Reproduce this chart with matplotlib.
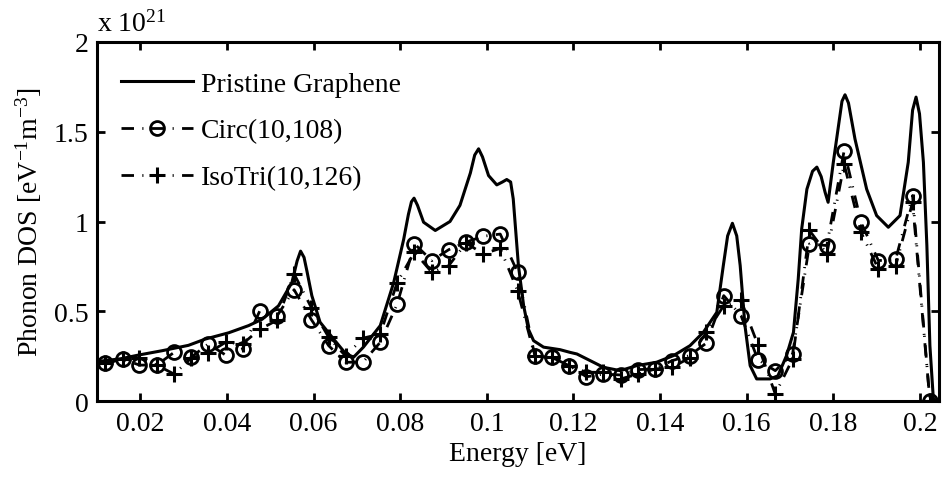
import numpy as np
import matplotlib
matplotlib.use("Agg")
from matplotlib import pyplot as plt


# pristine graphene DOS (units of 1e21 eV^-1 m^-3)
pristine_e = [0.0101, 0.0154, 0.0196, 0.0250, 0.0311, 0.0350, 0.0404, 0.0450,
              0.0481, 0.0519, 0.0550, 0.0562, 0.0570, 0.0578, 0.0585, 0.0596,
              0.0615, 0.0646, 0.0672, 0.0692, 0.0715, 0.0754, 0.0785, 0.0808,
              0.0819, 0.0826, 0.0832, 0.0840, 0.0854, 0.0881, 0.0915, 0.0938,
              0.0962, 0.0972, 0.0981, 0.0990, 0.1004, 0.1023, 0.1036, 0.1046,
              0.1055, 0.1061, 0.1073, 0.1085, 0.1096, 0.1108, 0.1131, 0.1169,
              0.1192, 0.1208, 0.1246, 0.1269, 0.1308, 0.1346, 0.1392, 0.1431,
              0.1469, 0.1500, 0.1531, 0.1546, 0.1556, 0.1567, 0.1577, 0.1585,
              0.1596, 0.1608, 0.1623, 0.1654, 0.1672, 0.1692, 0.1708, 0.1719,
              0.1727, 0.1739, 0.1752, 0.1762, 0.1772, 0.1781, 0.1788, 0.1800,
              0.1810, 0.1820, 0.1827, 0.1835, 0.1850, 0.1877, 0.1900, 0.1927,
              0.1954, 0.1973, 0.1983, 0.1991, 0.1999, 0.2008, 0.2016, 0.2023,
              0.2031, 0.2044]
pristine_dos = [0.22, 0.235, 0.256, 0.28, 0.31, 0.345, 0.38, 0.42,
                0.455, 0.53, 0.66, 0.78, 0.835, 0.80, 0.72, 0.587,
                0.439, 0.346, 0.27, 0.243, 0.30, 0.42, 0.66, 0.90,
                1.04, 1.11, 1.13, 1.09, 0.996, 0.95, 1.0, 1.09,
                1.27, 1.37, 1.405, 1.36, 1.256, 1.204, 1.22, 1.234,
                1.22, 1.126, 0.754, 0.531, 0.40, 0.336, 0.30, 0.286,
                0.271, 0.262, 0.216, 0.188, 0.169, 0.197, 0.216, 0.253,
                0.308, 0.383, 0.494, 0.754, 0.92, 0.99, 0.92, 0.754,
                0.42, 0.197, 0.123, 0.123, 0.14, 0.253, 0.383, 0.68,
                0.959, 1.18, 1.28, 1.303, 1.25, 1.163, 1.107, 1.33,
                1.50, 1.67, 1.706, 1.66, 1.46, 1.18, 1.033, 0.968,
                1.033, 1.33, 1.62, 1.693, 1.60, 1.33, 0.866, 0.308,
                0.01, 0.0]

# energies of the marked points (every few grid points of the calculation)
marker_e = [0.0119, 0.0159, 0.0198, 0.0238, 0.0278, 0.0317, 0.0357, 0.0397,
            0.0436, 0.0476, 0.0516, 0.0555, 0.0595, 0.0635, 0.0674, 0.0714,
            0.0754, 0.0793, 0.0833, 0.0873, 0.0912, 0.0952, 0.0992, 0.1031,
            0.1071, 0.1111, 0.1150, 0.1190, 0.1230, 0.1269, 0.1309, 0.1349,
            0.1388, 0.1428, 0.1468, 0.1507, 0.1547, 0.1587, 0.1626, 0.1666,
            0.1706, 0.1745, 0.1785, 0.1825, 0.1864, 0.1904, 0.1944, 0.1983,
            0.2023]

circ_dos = [0.21, 0.234, 0.20, 0.20, 0.271, 0.243, 0.318, 0.256,
            0.29, 0.503, 0.475, 0.62, 0.453, 0.308, 0.216, 0.216,
            0.327, 0.54, 0.875, 0.782, 0.843, 0.885, 0.918, 0.93,
            0.717, 0.249, 0.243, 0.197, 0.135, 0.15, 0.145, 0.175,
            0.178, 0.225, 0.253, 0.323, 0.587, 0.475, 0.23, 0.169,
            0.262, 0.875, 0.866, 1.395, 0.996, 0.782, 0.79, 1.144,
            0.0]

isotri_dos = [0.21, 0.234, 0.24, 0.20, 0.15, 0.238, 0.268, 0.327,
              0.318, 0.40, 0.45, 0.708, 0.52, 0.355, 0.25, 0.35,
              0.373, 0.66, 0.83, 0.717, 0.754, 0.88, 0.82, 0.85,
              0.615, 0.249, 0.243, 0.197, 0.16, 0.16, 0.123, 0.15,
              0.178, 0.188, 0.24, 0.383, 0.531, 0.56, 0.312, 0.039,
              0.234, 0.95, 0.82, 1.32, 0.94, 0.736, 0.754, 1.107,
              0.0]

x_ticks = [0.02, 0.04, 0.06, 0.08, 0.1, 0.12, 0.14, 0.16, 0.18, 0.2]
x_labels = ["0.02", "0.04", "0.06", "0.08", "0.1", "0.12", "0.14", "0.16", "0.18", "0.2"]
y_ticks = [0, 0.5, 1, 1.5, 2]
y_labels = ["0", "0.5", "1", "1.5", "2"]


plt.rcParams['font.family'] = ['Liberation Serif', 'DejaVu Serif']
plt.rcParams['mathtext.fontset'] = 'custom'
plt.rcParams['mathtext.rm'] = 'Liberation Serif'
plt.rcParams['mathtext.it'] = 'Liberation Serif'

FS = 20

fig = plt.figure(figsize=(9.42, 4.81), dpi=100)
ax = fig.add_axes([97 / 942, 1 - 402 / 481, 842 / 942, 359 / 481])

dashdot = (0, (4.5, 3.0, 0.4, 3.0))

ax.plot(pristine_e, pristine_dos, '-', color='black', lw=2.2, label='Pristine Graphene')
ax.plot(marker_e, circ_dos, linestyle=dashdot, color='black', lw=2.0,
        marker='o', markersize=10, markerfacecolor='none', markeredgewidth=2.0,
        label='Circ(10,108)')
ax.plot(marker_e, isotri_dos, linestyle=dashdot, color='black', lw=2.0,
        marker='+', markersize=11, markeredgewidth=2.2,
        label='IsoTri(10,126)')

ax.set_xlim(0.01, 0.2044)
ax.set_ylim(0, 2)
ax.set_xticks(x_ticks)
ax.set_xticklabels(x_labels)
ax.set_yticks(y_ticks)
ax.set_yticklabels(y_labels)

ax.tick_params(direction='in', length=6, width=2, labelsize=FS,
               top=True, right=True)
ax.tick_params(axis='x', pad=7)
ax.tick_params(axis='y', pad=6)
for sp in ax.spines.values():
    sp.set_linewidth(2.2)

ax.set_xlabel('Energy [eV]', fontsize=FS)
ax.xaxis.set_label_coords(0.5, -(442 - 402) / 359)
ax.set_ylabel(r'Phonon DOS [eV$^{-1}$m$^{-3}$]', fontsize=FS)
ax.yaxis.set_label_coords(-(97 - 44) / 842, 0.5)

ax.text(0.0, 1.0315, r'x 10$^{21}$', transform=ax.transAxes, fontsize=FS,
        ha='left', va='baseline')

leg = ax.legend(loc='upper left', frameon=False, fontsize=FS, handlelength=2.6,
                handletextpad=0.3, labelspacing=0.77, borderaxespad=0.3,
                numpoints=1, bbox_to_anchor=(0.005, 0.973))

fig.savefig('out.png', dpi=100)
